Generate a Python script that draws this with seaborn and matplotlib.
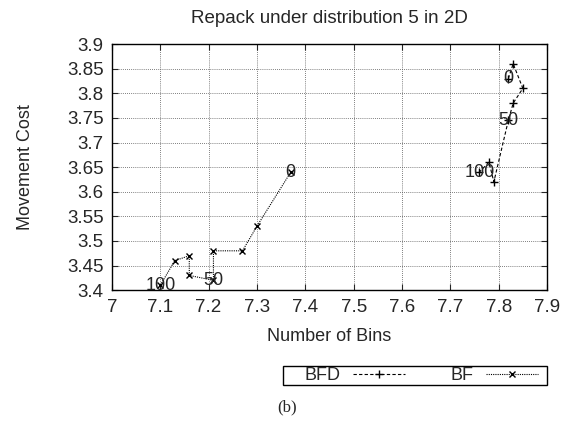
import matplotlib
matplotlib.use("Agg")
import matplotlib.pyplot as plt
from matplotlib.patches import Rectangle
import seaborn as sns
import pandas as pd

# BFD series (dashed, "+" markers), ordered from parameter 0 to 100
bfd_x = [7.82, 7.83, 7.85, 7.83, 7.82, 7.79, 7.78, 7.76]
bfd_y = [3.83, 3.86, 3.81, 3.78, 3.745, 3.62, 3.66, 3.64]
bfd_labels = {0: "0", 4: "50", 7: "100"}

# BF series (dotted, "x" markers), ordered from parameter 0 to 100
bf_x = [7.37, 7.30, 7.27, 7.21, 7.21, 7.16, 7.16, 7.13, 7.10]
bf_y = [3.64, 3.53, 3.48, 3.48, 3.42, 3.43, 3.47, 3.46, 3.41]
bf_labels = {0: "0", 4: "50", 8: "100"}

x_ticks = [7.0, 7.1, 7.2, 7.3, 7.4, 7.5, 7.6, 7.7, 7.8, 7.9]
x_tick_labels = ["7", "7.1", "7.2", "7.3", "7.4", "7.5", "7.6", "7.7", "7.8", "7.9"]
y_ticks = [3.4, 3.45, 3.5, 3.55, 3.6, 3.65, 3.7, 3.75, 3.8, 3.85, 3.9]
y_tick_labels = ["3.4", "3.45", "3.5", "3.55", "3.6", "3.65", "3.7", "3.75", "3.8", "3.85", "3.9"]

sns.set_style("white")
plt.rcParams["font.family"] = ["Liberation Sans", "DejaVu Sans"]

fig = plt.figure(figsize=(5.74, 4.28), dpi=100)
ax = fig.add_axes([0.195, 0.322, 0.758, 0.575])

df_bfd = pd.DataFrame({"x": bfd_x, "y": bfd_y})
df_bf = pd.DataFrame({"x": bf_x, "y": bf_y})

sns.lineplot(data=df_bfd, x="x", y="y", ax=ax, sort=False, estimator=None,
             color="black", label="BFD")
sns.lineplot(data=df_bf, x="x", y="y", ax=ax, sort=False, estimator=None,
             color="black", label="BF")

line_bfd, line_bf = ax.get_lines()[:2]
line_bfd.set(linestyle=(0, (3, 2)), linewidth=0.8, marker="+",
             markersize=6, markeredgewidth=1.0, color="black",
             markeredgecolor="black")
line_bf.set(linestyle=(0, (1, 1)), linewidth=0.8, marker="x",
            markersize=4.5, markeredgewidth=1.0, color="black",
            markeredgecolor="black")

for i, t in bfd_labels.items():
    ax.text(bfd_x[i], bfd_y[i], t, ha="center", va="center", fontsize=13)
for i, t in bf_labels.items():
    ax.text(bf_x[i], bf_y[i], t, ha="center", va="center", fontsize=13)

ax.set_xlim(7.0, 7.9)
ax.set_ylim(3.4, 3.9)
ax.set_xticks(x_ticks)
ax.set_xticklabels(x_tick_labels, fontsize=13.5)
ax.set_yticks(y_ticks)
ax.set_yticklabels(y_tick_labels, fontsize=13.5)
ax.grid(True, color="#555555", linestyle=(0, (1, 1.5)), linewidth=0.6)
ax.tick_params(direction="in", length=4, width=0.8, top=True, right=True,
               bottom=True, left=True, pad=6)
for s in ax.spines.values():
    s.set_color("black")
    s.set_linewidth(1.0)

ax.set_xlabel("Number of Bins", fontsize=13, labelpad=9)
ax.set_ylabel("Movement Cost", fontsize=13, labelpad=24)
ax.set_title("Repack under distribution 5 in 2D", fontsize=13.5, pad=15)

ax.get_legend().remove()
leg = fig.legend([line_bfd, line_bf], ["BFD", "BF"], loc="center left",
                 bbox_to_anchor=(304 / 574, 1 - 375.5 / 428),
                 ncol=2, borderaxespad=0, borderpad=0, markerfirst=False,
                 fontsize=13, handlelength=2.9, frameon=False,
                 handletextpad=0.7, columnspacing=2.5)
fig.patches.append(Rectangle((283 / 574, 1 - 385 / 428), 264 / 574, 19 / 428,
                             transform=fig.transFigure, fill=False,
                             edgecolor="black", linewidth=1.0))

fig.text(0.5, 0.047, "(b)", ha="center", va="center", fontsize=12,
         family=["Liberation Serif", "DejaVu Serif"])

fig.savefig("out.png", dpi=100)
